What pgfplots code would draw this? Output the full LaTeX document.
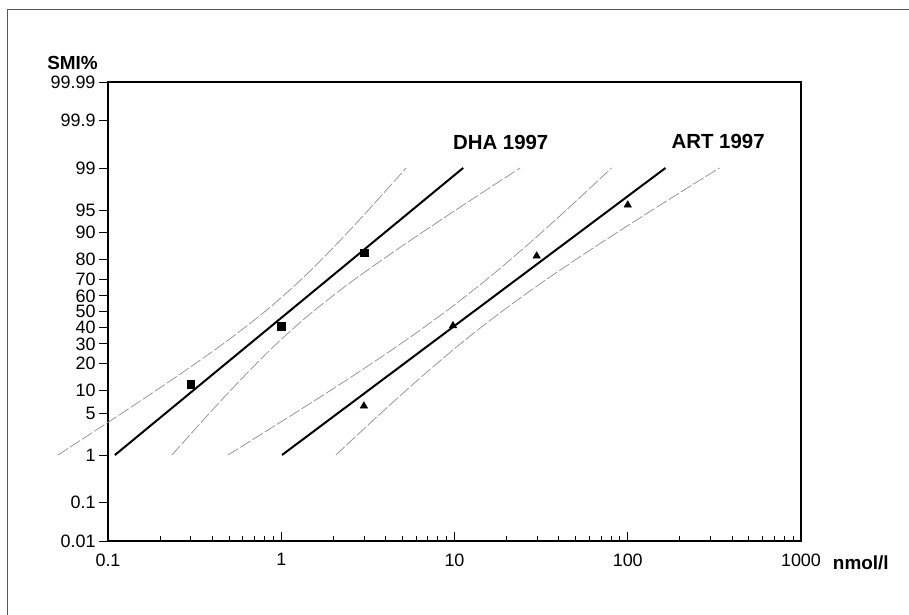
\documentclass[border=0pt]{standalone}
\usepackage{fontspec}
\setmainfont{Liberation Sans}
\usepackage{pgfplots}
\pgfplotsset{compat=1.18}
\pgfplotsset{band/.style={black!45, line width=0.7bp, smooth, dash pattern=on 12bp off 2.5bp}}
\begin{document}
\begin{tikzpicture}
\path[use as bounding box] (-108bp,-74bp) rectangle (801bp,541bp);
\draw[black!65, line width=1bp] (-100.5bp,-74bp) -- (-100.5bp,531.5bp) -- (801bp,531.5bp);
\begin{axis}[
  at={(0,0)}, anchor=south west, scale only axis,
  width=693bp, height=459bp,
  xmode=log, xmin=0.1, xmax=1000,
  ymin=-3.719, ymax=3.719,
  xtick={0.1,1,10,100,1000}, xticklabels={0.1,1,10,100,1000},
  minor xtick={0.2,0.3,0.4,0.5,0.6,0.7,0.8,0.9,2,3,4,5,6,7,8,9,20,30,40,50,60,70,80,90,200,300,400,500,600,700,800,900},
  ytick={-3.719,-3.090,-2.326,-1.645,-1.2816,-0.8416,-0.5244,-0.2533,0,0.2533,0.5244,0.8416,1.2816,1.645,2.326,3.090,3.719},
  yticklabels={0.01,0.1,1,5,10,20,30,40,50,60,70,80,90,95,99,99.9,99.99},
  xtick pos=left, ytick pos=left, tick align=inside,
  major tick length=9bp, minor tick length=4.5bp,
  y tick style={xshift=-9bp},
  tick style={black, line width=0.8bp},
  ticklabel style={font=\fontsize{18}{20}\selectfont},
  xticklabel style={yshift=-9bp},
  yticklabel style={xshift=-9bp},
  /pgf/number format/assume math mode=true,
  axis line style={line width=1.2bp},
  clip=false,
]
% DHA confidence bands
\addplot[band] coordinates {(0.0514,-2.326) (0.0775,-2) (0.1445,-1.5) (0.2655,-1) (0.4746,-0.5) (0.806,0) (1.283,0.5) (1.941,1) (2.858,1.5) (4.145,2) (5.26,2.326)};
\addplot[band] coordinates {(0.2339,-2.326) (0.2969,-2) (0.4305,-1.5) (0.634,-1) (0.958,-0.5) (1.526,0) (2.592,0.5) (4.634,1) (8.51,1.5) (15.87,2) (23.93,2.326)};
% ART confidence bands
\addplot[band] coordinates {(0.4923,-2.326) (0.7563,-2) (1.449,-1.5) (2.735,-1) (5.03,-0.5) (8.90,0) (15.05,0.5) (24.49,1) (38.84,1.5) (60.63,2) (80.62,2.326)};
\addplot[band] coordinates {(2.068,-2.326) (2.750,-2) (4.294,-1.5) (6.808,-1) (11.08,-0.5) (18.74,0) (33.15,0.5) (60.95,1) (115.0,1.5) (220.4,2) (338.5,2.326)};
% fitted lines
\addplot[black, line width=2bp] coordinates {(0.1096,-2.326) (11.22,2.326)};
\addplot[black, line width=2bp] coordinates {(1.01,-2.326) (165.2,2.326)};
% data points
\addplot[only marks, mark=square*, mark size=3.8bp, black] coordinates {(0.3,-1.18) (1.0,-0.235) (3.0,0.953)};
\addplot[only marks, mark=triangle*, mark size=4.3bp, black] coordinates {(3.0,-1.53) (9.8,-0.23) (29.8,0.90) (100,1.726)};
\node[font=\bfseries\fontsize{20.5}{22}\selectfont] at (axis cs:18.48,2.742) {DHA 1997};
\node[font=\bfseries\fontsize{20.5}{22}\selectfont] at (axis cs:332.4,2.752) {ART 1997};
\end{axis}
\node[font=\bfseries\fontsize{19}{21}\selectfont] at (-35.5bp,477.7bp) {SMI\%};
\node[font=\bfseries\fontsize{19}{21}\selectfont] at (752.8bp,-22.3bp) {nmol/l};
\end{tikzpicture}
\end{document}
